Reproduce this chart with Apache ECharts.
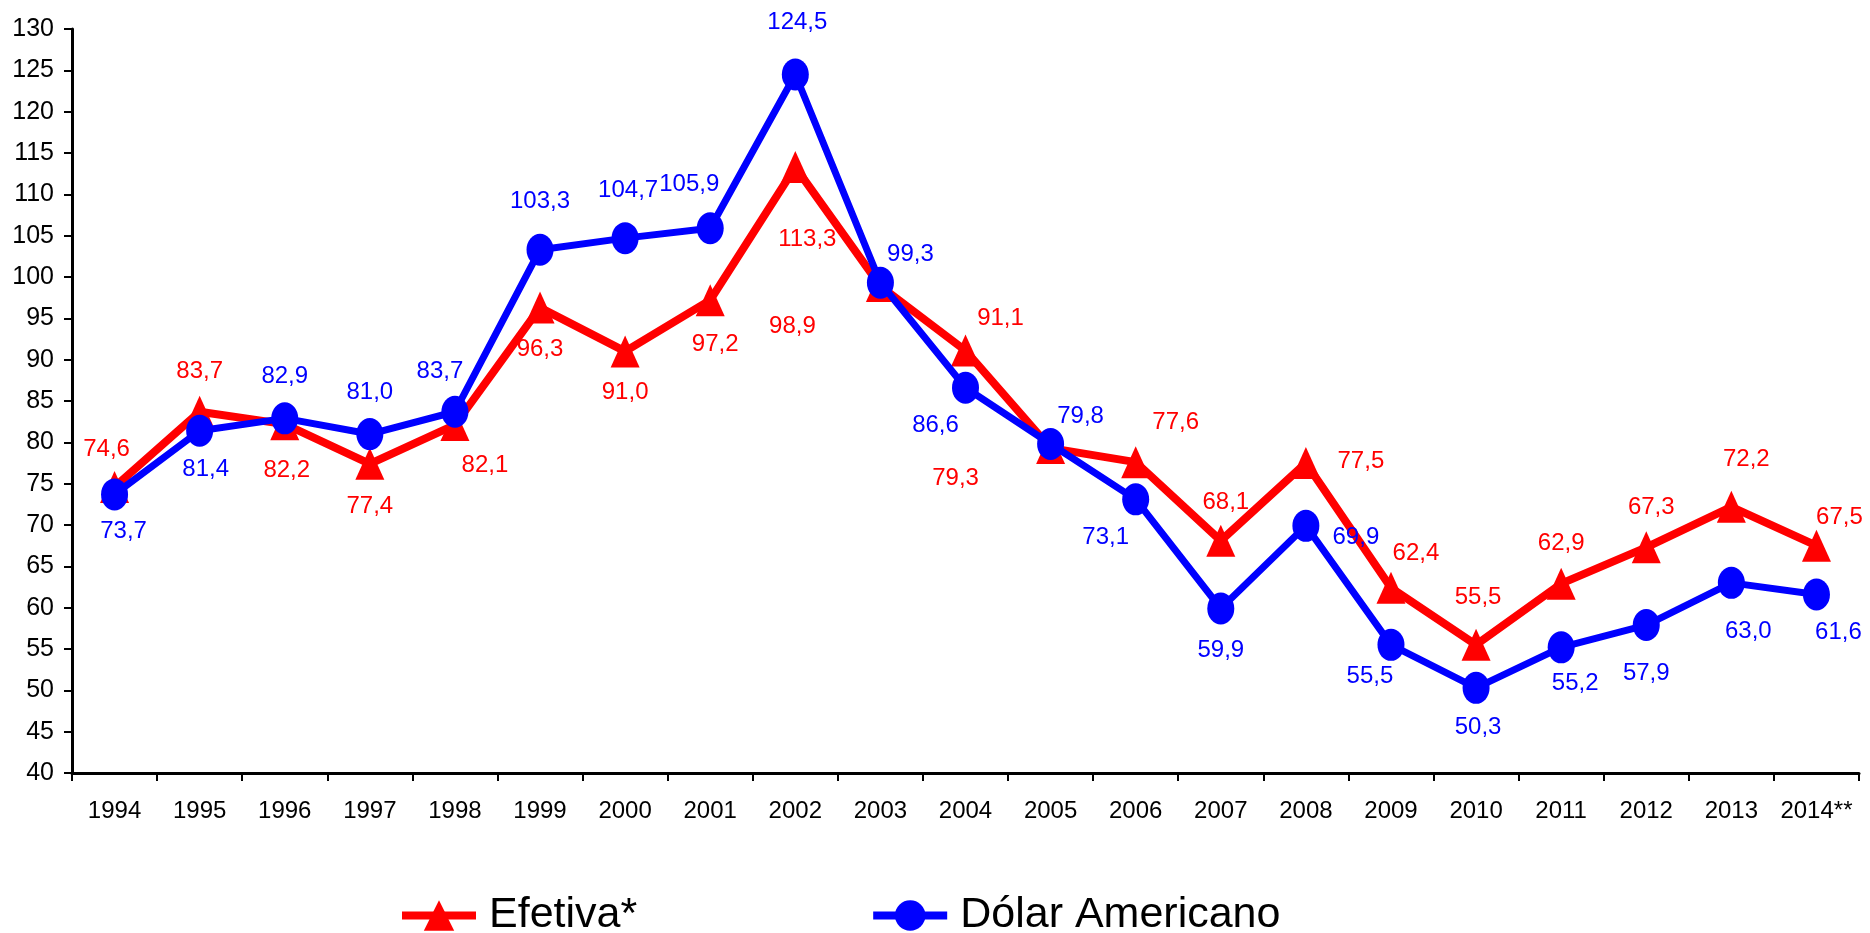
<!DOCTYPE html>
<html>
<head>
<meta charset="utf-8">
<script src="https://cdn.jsdelivr.net/npm/echarts@6/dist/echarts.min.js"></script>
<style>
  html, body { margin: 0; padding: 0; background: #fff; }
  #chart { width: 1870px; height: 933px; }
</style>
</head>
<body>
<div id="chart"></div>
<script>
// Índices anuais da taxa de câmbio real
const years = ['1994', '1995', '1996', '1997', '1998', '1999', '2000', '2001', '2002', '2003', '2004',
  '2005', '2006', '2007', '2008', '2009', '2010', '2011', '2012', '2013', '2014**'];
const efetiva = [74.6, 83.7, 82.2, 77.4, 82.1, 96.3, 91.0, 97.2, 113.3, 98.9, 91.1,
  79.3, 77.6, 68.1, 77.5, 62.4, 55.5, 62.9, 67.3, 72.2, 67.5];
const dolar = [73.7, 81.4, 82.9, 81.0, 83.7, 103.3, 104.7, 105.9, 124.5, 99.3, 86.6,
  79.8, 73.1, 59.9, 69.9, 55.5, 50.3, 55.2, 57.9, 63.0, 61.6];
const yTicks = { min: 40, max: 130, step: 5 };

// Label placement (pixel offsets from each marker's centre)
const efetivaLabelOffsets = [
  [-8, -38], [0, -40], [2, 46], [0, 43], [30, 40], [0, 42], [0, 41], [5, 44], [12, 72], [-88, 40], [35, -32],
  [-95, 30], [40, -40], [5, -38], [55, -2], [25, -34], [2, -47], [0, -40], [5, -40], [15, -47], [23, -28]
];
const dolarLabelOffsets = [
  [9, 37], [6, 39], [0, -42], [0, -42], [-15, -40], [0, -48], [3, -48], [-21, -44], [2, -52], [30, -28], [-30, 38],
  [30, -28], [-30, 38], [0, 42], [50, 12], [-21, 32], [2, 40], [14, 36], [0, 48], [17, 49], [22, 38]
];

const FONT = "'Liberation Sans', Arial, Helvetica, sans-serif";
const fmt = v => v.toFixed(1).replace('.', ',');

function buildData(values, offsets) {
  return values.map((v, i) => ({
    value: v,
    label: { offset: offsets[i] }
  }));
}

const chart = echarts.init(document.getElementById('chart'), null, { renderer: 'canvas' });

chart.setOption({
  animation: false,
  backgroundColor: '#ffffff',
  grid: { left: 72, right: 11, top: 29, bottom: 160, containLabel: false },
  legend: {
    left: 393,
    top: 889,
    itemWidth: 74,
    itemHeight: 38,
    itemGap: 232,
    textStyle: { fontFamily: FONT, fontSize: 43, color: '#000', padding: [0, 0, 0, 8] },
    data: [
      { name: 'Efetiva*', lineStyle: { width: 8 } },
      { name: 'Dólar Americano', lineStyle: { width: 8 } }
    ]
  },
  xAxis: {
    type: 'category',
    data: years,
    boundaryGap: true,
    axisLine: { lineStyle: { color: '#000', width: 3 } },
    axisTick: { show: true, alignWithLabel: false, length: 8, lineStyle: { color: '#000', width: 2 } },
    axisLabel: { interval: 0, margin: 26, fontFamily: FONT, fontSize: 24, color: '#000' },
    splitLine: { show: false }
  },
  yAxis: {
    type: 'value',
    min: yTicks.min,
    max: yTicks.max,
    interval: yTicks.step,
    axisLine: { show: true, lineStyle: { color: '#000', width: 3 } },
    axisTick: { show: true, length: 8, lineStyle: { color: '#000', width: 2 } },
    axisLabel: { margin: 18, fontFamily: FONT, fontSize: 25, color: '#000' },
    splitLine: { show: false }
  },
  series: [
    {
      name: 'Efetiva*',
      type: 'line',
      data: buildData(efetiva, efetivaLabelOffsets),
      symbol: 'triangle',
      symbolSize: [29, 32],
      itemStyle: { color: '#ff0000' },
      lineStyle: { color: '#ff0000', width: 8 },
      label: {
        show: true,
        position: 'inside',
        formatter: p => fmt(p.value),
        fontFamily: FONT,
        fontSize: 24,
        color: '#ff0000'
      },
      z: 2
    },
    {
      name: 'Dólar Americano',
      type: 'line',
      data: buildData(dolar, dolarLabelOffsets),
      symbol: 'circle',
      symbolSize: [27, 32],
      itemStyle: { color: '#0000ff' },
      lineStyle: { color: '#0000ff', width: 7 },
      label: {
        show: true,
        position: 'inside',
        formatter: p => fmt(p.value),
        fontFamily: FONT,
        fontSize: 24,
        color: '#0000ff'
      },
      z: 3
    }
  ]
});
</script>
</body>
</html>
